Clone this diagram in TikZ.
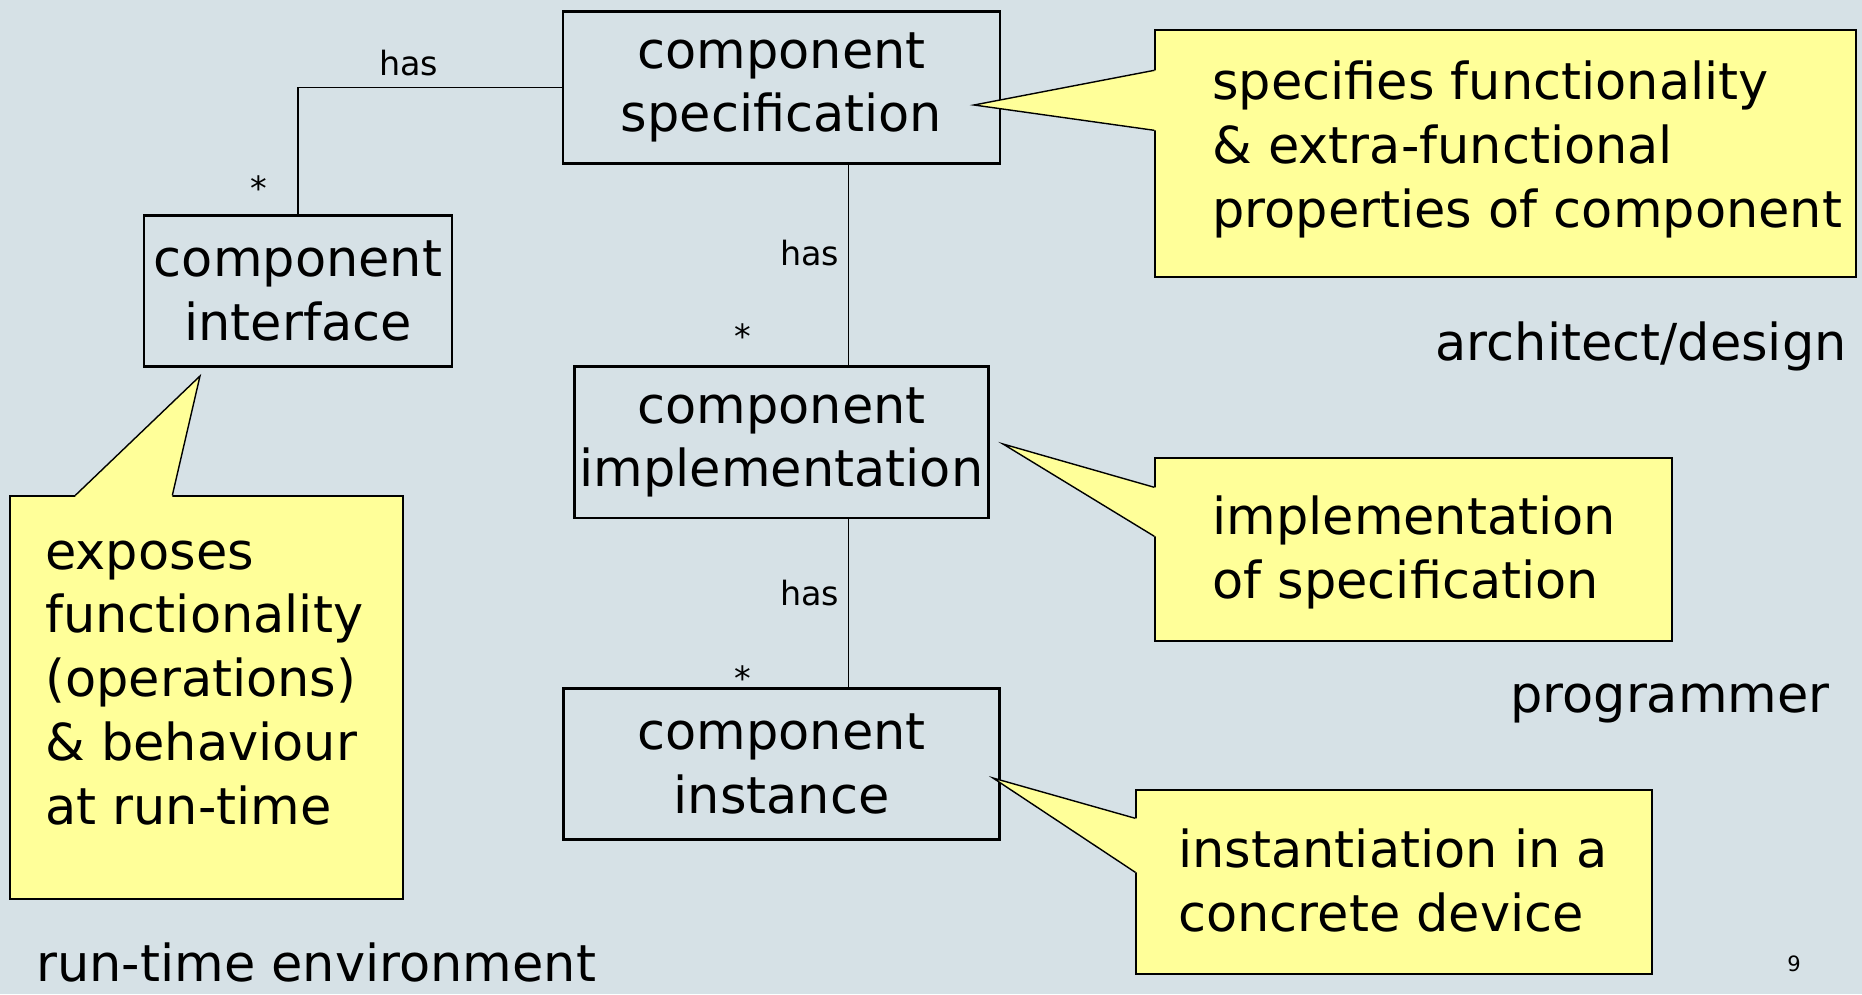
\documentclass[tikz,border=0pt]{standalone}
\usepackage{fontspec}
\setmainfont{DejaVu Sans}
\usetikzlibrary{positioning, calc}
\definecolor{slidebg}{RGB}{214,225,230}
\definecolor{noteyellow}{RGB}{255,255,153}
\tikzset{
  box/.style={rectangle, draw=black, line width=1.6pt, align=center, inner sep=0pt,
              minimum height=3.03cm, font=\fontsize{29}{35.9}\selectfont},
  note/.style={rectangle, draw=black, fill=noteyellow, line width=0.8pt, inner sep=0pt},
  notetext/.style={anchor=west, align=left, inner sep=0pt, font=\fontsize{29}{36.4}\selectfont},
  pointer/.style={draw=black, line width=0.8pt, line join=miter},
  link/.style={draw=black, line width=0.7pt},
  has/.style={font=\fontsize{19}{22}\selectfont, inner sep=0pt},
  mult/.style={font=\fontsize{19}{22}\selectfont, inner sep=0pt},
  role/.style={font=\fontsize{29}{35}\selectfont, inner sep=0pt},
}
\begin{document}
\begin{tikzpicture}[x=0.02cm, y=-0.02cm]
  \useasboundingbox (0,0) rectangle (1862,994);
  \fill[slidebg] (0,0) rectangle (1862,994);

  % model elements
  \node[box, minimum width=8.74cm] (spec) at (781.5,87.5) {component\\specification};
  \node[box, minimum width=8.28cm, below=4.01cm of spec] (impl) {component\\implementation};
  \node[box, minimum width=8.72cm, below=3.35cm of impl] (inst) {component\\instance};
  \node[box, minimum width=6.16cm] (iface) at (298,291) {component\\interface};

  \draw[link] (spec.west) -| node[has, pos=0.29, above=6pt] (has1) {has} (iface.north);
  \draw[link] ($(spec.south)+(67,0)$) -- node[has, pos=0.44, left=5pt] (has2) {has} ($(impl.north)+(67,0)$);
  \draw[link] ($(impl.south)+(67,0)$) -- node[has, pos=0.44, left=5pt] (has3) {has} ($(inst.north)+(67,0)$);
  \node[mult] (mult1) at ($(iface.north)+(-39,-26)$) {*};
  \node[mult] (mult2) at ($(impl.north)+(-39,-29)$) {*};
  \node[mult] (mult3) at ($(inst.north)+(-39,-9)$) {*};

  % callouts
  \node[note, minimum width=14.02cm, minimum height=4.94cm] (notespec) at (1505.5,153.5) {};
  \node[note, minimum width=7.86cm, minimum height=8.06cm] (noteiface) at (206.5,697.5) {};
  \node[note, minimum width=10.34cm, minimum height=3.66cm] (noteimpl) at (1413.5,549.5) {};
  \node[note, minimum width=10.32cm, minimum height=3.68cm] (noteinst) at (1394,882) {};

  \coordinate (tipspec) at (974,105);
  \coordinate (tipimpl) at (1003,444);
  \coordinate (tipinst) at (993,778);
  \coordinate (tipiface) at (200,376);
  \foreach \n/\a/\b in {spec/41/101, impl/30/79, inst/29/83}{
    \fill[noteyellow] ($(note\n.north west)+(0,\a)$) -- (tip\n) -- ($(note\n.north west)+(0,\b)$)
      -- ++(4,0) -- ($(note\n.north west)+(4,\a)$) -- cycle;
    \draw[pointer] ($(note\n.north west)+(0,\a)$) -- (tip\n) -- ($(note\n.north west)+(0,\b)$);
  }
  \fill[noteyellow] ($(noteiface.north west)+(66,0)$) -- (tipiface) -- ($(noteiface.north west)+(163,0)$)
    -- ++(0,4) -- ($(noteiface.north west)+(66,4)$) -- cycle;
  \draw[pointer] ($(noteiface.north west)+(66,0)$) -- (tipiface) -- ($(noteiface.north west)+(163,0)$);

  \node[notetext] (txtspec) at (1212,149.5) {specifies functionality\\\& extra-functional\\properties of component};
  \node[notetext] (txtiface) at (45,683) {exposes\\functionality\\(operations)\\\& behaviour\\at run-time};
  \node[notetext] (txtimpl) at (1212,552.5) {implementation\\of specification};
  \node[notetext] (txtinst) at (1178,880.5) {instantiation in a\\concrete device};

  % roles
  \node[role, anchor=base east] (archrole) at (1847,360) {architect/design};
  \node[role, anchor=base east] (progrole) at (1830,712) {programmer};
  \node[role, anchor=base west] (rtrole) at (36,981) {run-time environment};
  \node[font=\fontsize{12}{14}\selectfont, anchor=base, inner sep=0pt] (pagenum) at (1794,971) {9};
\end{tikzpicture}
\end{document}
